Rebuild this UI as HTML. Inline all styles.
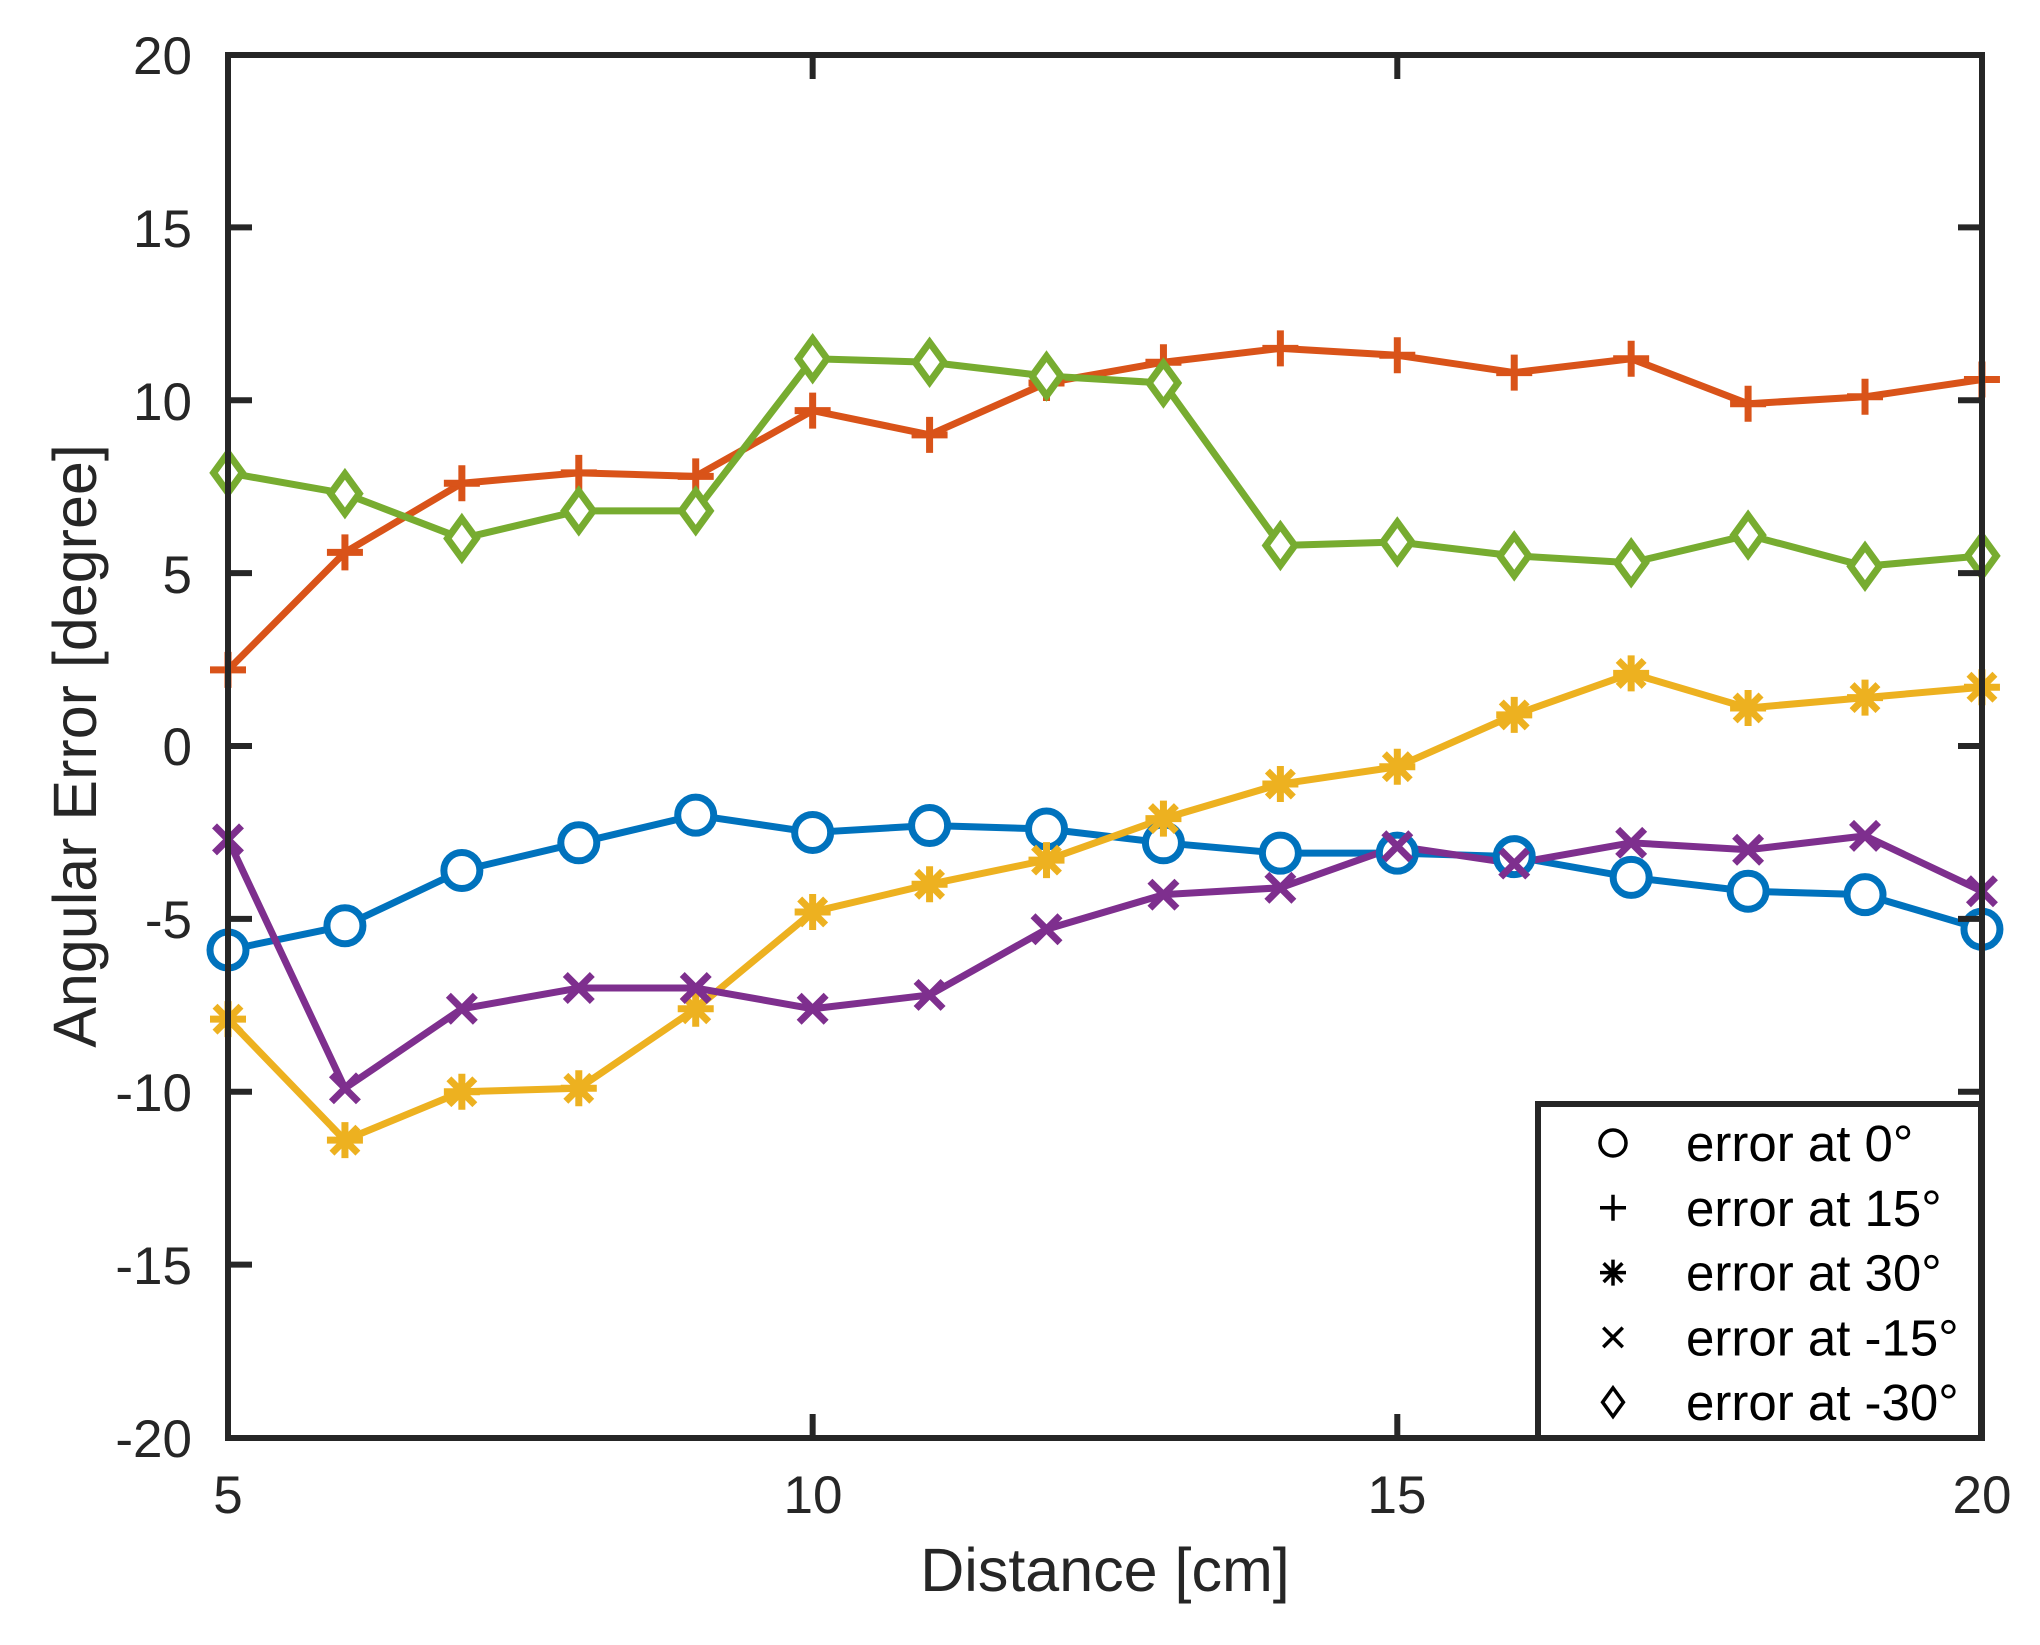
<!DOCTYPE html>
<html><head><meta charset="utf-8"><style>
html,body{margin:0;padding:0;background:#fff;}
svg{display:block;font-family:"Liberation Sans",sans-serif;}
</style></head><body>
<svg id="c" width="2040" height="1645" viewBox="0 0 2040 1645" xmlns="http://www.w3.org/2000/svg">
<rect width="2040" height="1645" fill="#fff"/>
<g id="plot"></g>
<g fill="#262626" font-size="53" text-anchor="end">
<text x="192" y="74">20</text>
<text x="192" y="247">15</text>
<text x="192" y="420">10</text>
<text x="192" y="593">5</text>
<text x="192" y="765">0</text>
<text x="192" y="938">-5</text>
<text x="192" y="1111">-10</text>
<text x="192" y="1284">-15</text>
<text x="192" y="1457">-20</text>
</g>
<g fill="#262626" font-size="53" text-anchor="middle">
<text x="228" y="1513">5</text>
<text x="813" y="1513">10</text>
<text x="1397" y="1513">15</text>
<text x="1982" y="1513">20</text>
<text x="1105" y="1591" font-size="61">Distance [cm]</text>
<text x="0" y="0" font-size="61" transform="translate(96,746) rotate(-90)">Angular Error [degree]</text>
</g>
</svg>
<script>
var X=function(v){return 228+(v-5)*116.93;};
var Y=function(v){return 746-v*34.575;};
var ns="http://www.w3.org/2000/svg";
var g=document.getElementById('plot');
function el(t,a){var e=document.createElementNS(ns,t);for(var k in a)e.setAttribute(k,a[k]);g.appendChild(e);return e;}
var data=[
["#0072BD","o",[-5.9,-5.2,-3.6,-2.8,-2.0,-2.5,-2.3,-2.4,-2.8,-3.1,-3.1,-3.2,-3.8,-4.2,-4.3,-5.3]],
["#D95319","+",[2.2,5.6,7.6,7.9,7.8,9.7,9.0,10.5,11.1,11.5,11.3,10.8,11.2,9.9,10.1,10.6]],
["#EDB120","*",[-7.9,-11.4,-10.0,-9.9,-7.6,-4.8,-4.0,-3.3,-2.1,-1.1,-0.6,0.9,2.1,1.1,1.4,1.7]],
["#7E2F8E","x",[-2.7,-9.9,-7.6,-7.0,-7.0,-7.6,-7.2,-5.3,-4.3,-4.1,-2.9,-3.4,-2.8,-3.0,-2.6,-4.2]],
["#77AC30","d",[7.9,7.3,6.0,6.8,6.8,11.2,11.1,10.7,10.5,5.8,5.9,5.5,5.3,6.1,5.2,5.5]]
];
function marker(m,x,y,c,s,w){
 var r=s/2;
 if(m=="o")el('circle',{cx:x,cy:y,r:r,fill:'#fff',stroke:c,'stroke-width':w});
 else if(m=="+")el('path',{d:'M'+(x-r)+' '+y+'H'+(x+r)+'M'+x+' '+(y-r)+'V'+(y+r),stroke:c,'stroke-width':w,fill:'none'});
 else if(m=="x"){var q=r*0.75;el('path',{d:'M'+(x-q)+' '+(y-q)+'L'+(x+q)+' '+(y+q)+'M'+(x-q)+' '+(y+q)+'L'+(x+q)+' '+(y-q),stroke:c,'stroke-width':w,fill:'none'});}
 else if(m=="*"){var q=r*0.72;el('path',{d:'M'+(x-r)+' '+y+'H'+(x+r)+'M'+x+' '+(y-r)+'V'+(y+r)+'M'+(x-q)+' '+(y-q)+'L'+(x+q)+' '+(y+q)+'M'+(x-q)+' '+(y+q)+'L'+(x+q)+' '+(y-q),stroke:c,'stroke-width':w,fill:'none'});}
 else if(m=="d")el('path',{d:'M'+x+' '+(y-r*1.1)+'L'+(x+r*0.8)+' '+y+'L'+x+' '+(y+r*1.1)+'L'+(x-r*0.8)+' '+y+'Z',fill:'#fff',stroke:c,'stroke-width':w});
}
data.forEach(function(s){
 var p=s[2].map(function(v,i){return X(5+i)+','+Y(v);}).join(' ');
 el('polyline',{points:p,fill:'none',stroke:s[0],'stroke-width':7,'stroke-linejoin':'round'});
});
data.forEach(function(s){s[2].forEach(function(v,i){marker(s[1],X(5+i),Y(v),s[0],36,7);});});
el('rect',{x:228,y:55,width:1754,height:1383,fill:'none',stroke:'#262626','stroke-width':6});
for(var v=-15;v<=15;v+=5){el('path',{d:'M228 '+Y(v)+'h24M1982 '+Y(v)+'h-24',stroke:'#262626','stroke-width':6});}
[10,15].forEach(function(v){el('path',{d:'M'+X(v)+' 1438v-24M'+X(v)+' 55v24',stroke:'#262626','stroke-width':6});});
el('rect',{x:1538,y:1104,width:443,height:334,fill:'#fff',stroke:'#262626','stroke-width':6});
var labs=["error at 0°","error at 15°","error at 30°","error at -15°","error at -30°"];
var ms=["o","+","*","x","d"];
for(var i=0;i<5;i++){
 var yy=1143+i*64.8;
 marker(ms[i],1613,yy,'#000',26,3.5);
 var t=el('text',{x:1686,y:yy+18,'font-size':51,fill:'#000'});t.textContent=labs[i];
}
</script>
</body></html>
